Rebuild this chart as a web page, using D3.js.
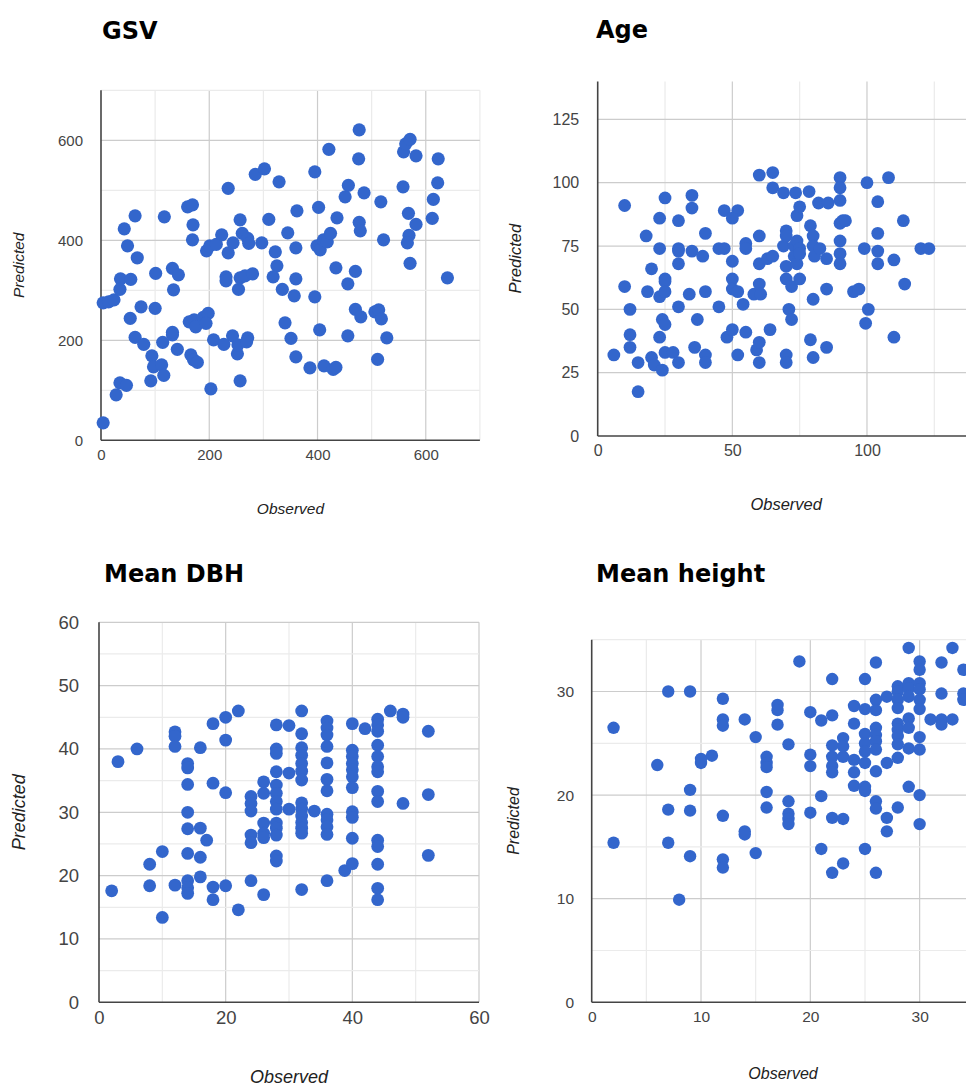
<!DOCTYPE html>
<html>
<head>
<meta charset="utf-8">
<script src="https://cdn.jsdelivr.net/npm/d3@7"></script>
<style>
  body { margin: 0; background: #fff; }
  .tick text { font-family: "Liberation Sans", Arial, sans-serif; fill: #444; }
  .title { font-family: "DejaVu Sans", sans-serif; font-weight: bold; fill: #000; }
  .axis-label { font-family: "Liberation Sans", Arial, sans-serif; font-style: italic; fill: #222; }
</style>
</head>
<body>
<svg id="chart" width="966" height="1086"></svg>
<script>
// GSV
const gsvObserved = [4,4,14,24,28,35,47,43,49,36,35,55,54,63,67,63,79,74,100,101,94,97,92,112,116,114,132,132,141,134,132,143,117,160,169,170,169,163,172,175,189,198,194,166,171,178,203,208,227,243,252,253,257,271,269,195,201,213,223,235,244,235,231,231,254,257,266,280,257,261,271,273,285,302,297,310,322,325,318,329,335,340,351,345,360,362,360,357,360,386,395,395,402,399,405,411,418,424,404,412,429,434,421,434,436,451,457,456,456,470,470,480,476,477,477,479,486,506,513,518,528,511,517,522,558,559,563,571,582,568,569,566,571,582,612,614,622,623,640];
const gsvPredicted = [35,275,277,281,91,115,110,423,389,323,302,322,244,449,365,206,192,267,264,334,169,147,119,151,130,196,211,216,182,301,344,331,447,467,471,431,401,237,241,227,246,254,234,171,161,156,103,201,192,209,173,191,119,205,197,379,389,392,411,375,395,504,327,319,302,325,329,333,441,414,404,394,532,543,395,442,377,349,327,517,302,235,204,415,385,459,323,289,167,145,287,537,466,389,381,401,397,414,221,149,142,146,582,345,445,487,510,313,209,338,262,247,563,621,436,419,495,257,261,243,205,162,477,401,507,577,593,602,569,454,410,395,354,432,444,482,515,563,325];
const gsvXTicks = [0, 200, 400, 600];
const gsvYTicks = [0, 200, 400, 600];

// Age
const ageObserved = [6,10,10,12,12,12,15,15,18,18.5,20,20,21,24,23,23,23,24,25,23,25,25,25,25,25,28,30,30,30,30,30,30,34,35,35,35,36,37,39,40,40,40,40,45,45,47,47,48,50,50,50,50,52,50,52,52,54,55,55,55,58,60,60,60,60,60.5,59,60,60,63,65,65,65,64,69,69,70,70,70,70,70,70,71,72,72,73.5,73,73,74,74,74,75,75,75,75,78.5,79,80,80,80.5,82.5,80,79,80,82,85.6,85,85,85,90,90,90,90,91,92,90,90,90,95,97,99,99.5,100,100.5,104,104,104,104,108,110,110,113.5,114,120,123];
const agePredicted = [32,91,59,50,40,35,29,17.5,79,57,66,31,28,26,86,74,55,46,44,39,94,62,61,57,33,33,29,85,74,73,68,51,56,95,90,73,35,46,71,80,57,32,29,51,74,74,89,39,42,69,62,58,89,86,57,32,52,76,74,41,56,103,79,68,60,56,34,37,29,70,71,104,98,42,96,75,67,81,79,62,32,29,50,46,59,96,75,71,68,77,87,90.5,74,62,72,96.5,83,79,75,71,74,54,38,31,92,92,70,58,35,102,98,93,84,85,85,77,72,68,57,58,74,44.5,100,50,92.5,80,73,68,102,69.5,39,85,60,74,74];
const ageXTicks = [0, 50, 100];
const ageYTicks = [0, 25, 50, 75, 100, 125];

// Mean DBH
const dbhObserved = [2,3,6,8,8,10,10,12,12,12,12,14,14,14,14,14,14,14,14,14,16,16,16,16,17,18,18,18,18,20,20,20,20,22,22,24,24,24,24,24,24,26,26,26,26,26,26,28,28,28,28,28,28,28,28,28,28,28,28,28,30,30,30,32,32,32,32,32,32,32,32,32,32,32,32,32,32,34,36,36,36,36,36,36,36,36,36,36,36,36,38.8,40,40,40,40,40,40,40,40,40,40,40,42,44,44,44,44,44,44,44,44,44,44,44,44,44,44,46,48,48,48,52,52,52];
const dbhPredicted = [17.6,38,40,21.8,18.4,23.8,13.4,42.7,42,40.4,18.5,37.7,37,34.4,30,27.4,23.5,19.2,18.1,17.2,40.2,27.5,22.9,19.8,25.6,44,34.6,18.2,16.2,45,41.4,33.1,18.4,46,14.6,32.5,31.4,30.2,26.4,25.2,19.2,34.8,33,28.3,26.7,26,17,43.8,40,39.3,36.4,34.3,33,31.7,30.5,28.3,27.5,26.4,23.1,22.3,43.7,36.2,30.5,46,42.4,40.2,39,37.7,36.5,35.1,31.5,30.5,29.4,28.4,27.5,26.7,17.8,30.2,44.4,43.3,42.2,40.4,37.8,35.2,33.4,29.7,28.8,27.7,26.5,19.2,20.8,44,39.8,38.8,37.7,36.7,35.6,33.9,30.1,29.2,25.9,21.9,43.2,44.7,43.8,42.8,40.6,38.8,37.2,36.4,33.3,31.7,25.6,24.6,21.8,18,16.2,46,45.5,45,31.4,42.8,32.8,23.2];
const dbhXTicks = [0, 20, 40, 60];
const dbhYTicks = [0, 10, 20, 30, 40, 50, 60];

// Mean height
const heightObserved = [2,2,6,7,7,7,8,9,9,9,9,10,10,11,12,12,12,12,12,12,14,14,14,15,15,16,16,16,16,16,17,17,17,18,18,18,18,18,19,20,20,20,20,21,21,21,22,22,22,22,22,22,22,22,23,23,23,23,23,24,24,24,24,24,25,25,25,25,25,25,25,25,25,26,26,26,26,26,26,26,26,26,26,26,27,27,27,27,28,28,28,28,28,28,28,28,28,28,29,29,29,29,29,29,29,29,30,30,30,30,30,30,30,30,30,30,31,32,32,32,32,33,33,34,34,34];
const heightPredicted = [26.5,15.4,22.9,30,18.6,15.4,9.9,30,20.5,18.5,14.1,23.5,23.1,23.8,29.3,27.3,26.7,18,13.8,13,27.3,16.5,16.2,25.6,14.4,23.7,23.1,22.7,20.3,18.8,28.7,28.2,26.8,24.9,19.4,18.2,17.7,17.2,32.9,28,23.9,22.8,18.3,27.2,19.9,14.8,31.2,27.7,24.8,23.7,22.8,22.2,17.8,12.5,25.5,24.7,23.7,17.7,13.4,28.6,26.9,23.4,22.2,20.9,31.2,28.3,25.9,25,24.2,23.1,20.8,20.4,14.8,32.8,29.2,28.2,26.5,25.8,25.2,24.4,22.3,19.4,18.7,12.5,29.5,23.1,17.8,16.5,30.5,30,29.2,28.4,26.9,26.3,25.7,24.9,23.6,18.8,34.2,30.8,30.3,29.5,27.4,26.5,24.5,20.8,32.9,32.1,30.8,30.2,29.2,28.3,25.6,24.4,20,17.2,27.3,32.8,29.8,27.3,26.8,34.2,27.3,32.1,29.8,29.2];
const heightXTicks = [0, 10, 20, 30];
const heightYTicks = [0, 10, 20, 30];

const svg = d3.select("#chart");

function drawPanel(p, observed, predicted) {
    const g = svg.append("g");

    const x = d3.scaleLinear().domain(p.xDomain).range([p.left, p.right]);
    const y = d3.scaleLinear().domain(p.yDomain).range([p.bottom, p.top]);

    // minor + major gridlines
    const xLines = d3.range(p.xDomain[0] + p.xStep, p.xDomain[1] + 0.001, p.xStep);
    const yLines = d3.range(p.yDomain[0] + p.yStep, p.yDomain[1] + 0.001, p.yStep);

    g.selectAll(".gx").data(xLines).enter().append("line")
        .attr("x1", d => x(d)).attr("x2", d => x(d))
        .attr("y1", p.top).attr("y2", p.bottom)
        .attr("stroke", d => (d % p.xMajor === 0) ? "#cccccc" : "#ebebeb")
        .attr("stroke-width", 1.2);

    g.selectAll(".gy").data(yLines).enter().append("line")
        .attr("x1", p.left).attr("x2", p.right)
        .attr("y1", d => y(d)).attr("y2", d => y(d))
        .attr("stroke", d => (d % p.yMajor === 0) ? "#cccccc" : "#ebebeb")
        .attr("stroke-width", 1.2);

    // axes (labels only, no ticks)
    const xAxis = g.append("g")
        .attr("transform", `translate(0,${p.bottom})`)
        .call(d3.axisBottom(x).tickValues(p.xTicks).tickSize(0).tickPadding(p.xPad).tickFormat(d3.format("d")));
    xAxis.select(".domain").remove();
    xAxis.selectAll("text").style("font-size", p.tickFont + "px");

    const yAxis = g.append("g")
        .attr("transform", `translate(${p.left},0)`)
        .call(d3.axisLeft(y).tickValues(p.yTicks).tickSize(0).tickPadding(p.yPad).tickFormat(d3.format("d")));
    yAxis.select(".domain").remove();
    yAxis.selectAll("text").style("font-size", p.tickFont + "px");

    // baseline and left axis line
    g.append("line")
        .attr("x1", p.left).attr("x2", p.right)
        .attr("y1", p.bottom).attr("y2", p.bottom)
        .attr("stroke", "#444").attr("stroke-width", 1.6);
    g.append("line")
        .attr("x1", p.left).attr("x2", p.left)
        .attr("y1", p.top).attr("y2", p.bottom)
        .attr("stroke", "#444").attr("stroke-width", 1.6);

    // points
    g.selectAll(".dot").data(observed.map((d, i) => [d, predicted[i]])).enter().append("circle")
        .attr("cx", d => x(d[0]))
        .attr("cy", d => y(d[1]))
        .attr("r", p.r)
        .attr("fill", "#3366cc");

    // titles and axis titles
    g.append("text").attr("class", "title")
        .attr("x", p.titleX).attr("y", p.titleY)
        .style("font-size", "24px")
        .text(p.title);

    g.append("text").attr("class", "axis-label")
        .attr("x", (p.left + p.right) / 2).attr("y", p.xLabelY)
        .attr("text-anchor", "middle")
        .style("font-size", p.labelFont + "px")
        .text("Observed");

    g.append("text").attr("class", "axis-label")
        .attr("transform", `translate(${p.yLabelX},${(p.top + p.bottom) / 2}) rotate(-90)`)
        .attr("text-anchor", "middle")
        .style("font-size", p.labelFont + "px")
        .text("Predicted");
}

drawPanel({
    title: "GSV", titleX: 102, titleY: 39,
    left: 101, right: 479.9, top: 90.3, bottom: 440.3,
    xDomain: [0, 700], yDomain: [0, 700], xStep: 100, yStep: 100, xMajor: 200, yMajor: 200,
    xTicks: gsvXTicks, yTicks: gsvYTicks,
    tickFont: 15, labelFont: 15.5, xPad: 9, yPad: 18,
    xLabelY: 514, yLabelX: 24, r: 6.6
}, gsvObserved, gsvPredicted);

drawPanel({
    title: "Age", titleX: 596, titleY: 38,
    left: 597.7, right: 974.7, top: 81.4, bottom: 436,
    xDomain: [0, 140], yDomain: [0, 140], xStep: 25, yStep: 25, xMajor: 50, yMajor: 25,
    xTicks: ageXTicks, yTicks: ageYTicks,
    tickFont: 16, labelFont: 16.5, xPad: 9, yPad: 18.5,
    xLabelY: 510, yLabelX: 521, r: 6.4
}, ageObserved, agePredicted);

drawPanel({
    title: "Mean DBH", titleX: 104, titleY: 582,
    left: 99, right: 479, top: 622.3, bottom: 1002.3,
    xDomain: [0, 60], yDomain: [0, 60], xStep: 10, yStep: 5, xMajor: 20, yMajor: 10,
    xTicks: dbhXTicks, yTicks: dbhYTicks,
    tickFont: 18.5, labelFont: 18, xPad: 9, yPad: 20,
    xLabelY: 1083, yLabelX: 25, r: 6.4
}, dbhObserved, dbhPredicted);

drawPanel({
    title: "Mean height", titleX: 596, titleY: 582,
    left: 591.7, right: 974.3, top: 639.7, bottom: 1002.3,
    xDomain: [0, 35], yDomain: [0, 35], xStep: 5, yStep: 5, xMajor: 10, yMajor: 10,
    xTicks: heightXTicks, yTicks: heightYTicks,
    tickFont: 15.5, labelFont: 16, xPad: 9, yPad: 17.7,
    xLabelY: 1079, yLabelX: 519, r: 6.2
}, heightObserved, heightPredicted);
</script>
</body>
</html>
